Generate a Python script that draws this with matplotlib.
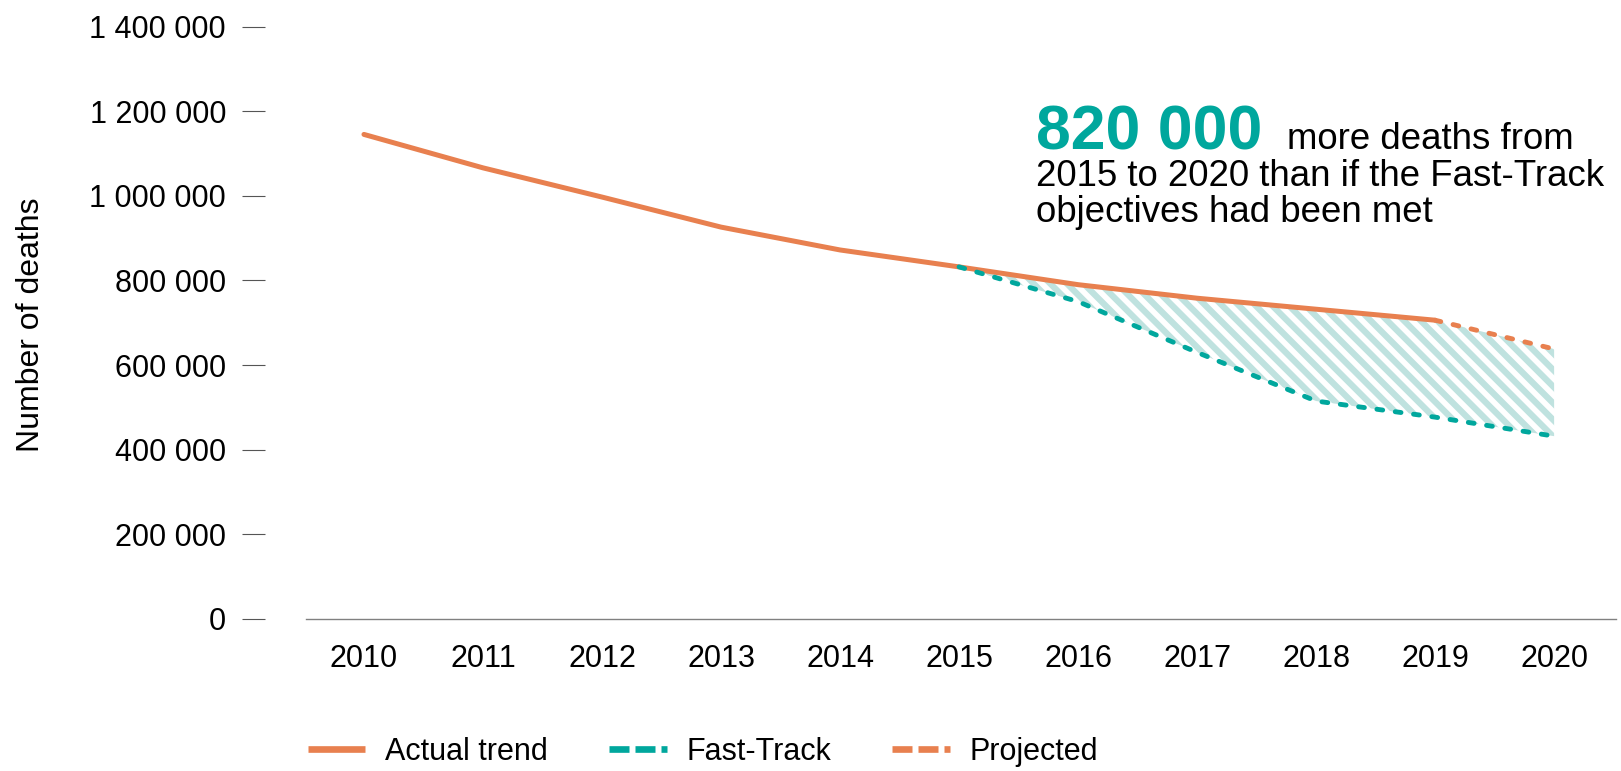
import numpy as np
import matplotlib
matplotlib.use("Agg")
import matplotlib.pyplot as plt
from matplotlib.lines import Line2D
from matplotlib.ticker import FuncFormatter

plt.rcParams['font.family'] = ['Liberation Sans', 'DejaVu Sans']
plt.rcParams['hatch.linewidth'] = 4.5

# values
years = [2010, 2011, 2012, 2013, 2014, 2015, 2016, 2017, 2018, 2019, 2020]
actual = [1145000, 1066000, 997000, 926000, 872000, 832000, 790000, 758000, 732000, 706000]
projected_years = [2019, 2020]
projected = [706000, 638000]
fast_track_years = [2015, 2016, 2017, 2018, 2019, 2020]
fast_track = [832000, 750000, 630000, 515000, 477000, 432000]

y_ticks = [0, 200000, 400000, 600000, 800000, 1000000, 1200000, 1400000]

orange = '#E8804F'
teal = '#00A79D'
stripe = '#BFE2DF'

fig = plt.figure(figsize=(16.21, 7.71), dpi=100)
ax = fig.add_axes([306 / 1621, 152 / 771, 1310 / 1621, 592.5 / 771])

# gap between actual/projected and fast-track, 2015-2020
upper = np.concatenate([actual[5:], projected[1:]])
ax.fill_between(fast_track_years, upper, fast_track,
                facecolor='white', edgecolor=stripe, hatch='\\\\', linewidth=0, zorder=1)

ax.plot(years[:len(actual)], actual, color=orange, lw=3.6,
        solid_capstyle='round', zorder=3)
ax.plot(projected_years, projected, color=orange, lw=3.5,
        dashes=(1.2, 2.6), dash_capstyle='round', zorder=3)
ax.plot(fast_track_years, fast_track, color=teal, lw=3.5,
        dashes=(1.2, 2.6), dash_capstyle='round', zorder=4)

ax.set_xlim(2009.513, 2020.52)
ax.set_ylim(0, 1400000)
ax.set_xticks(years)
ax.set_yticks(y_ticks)
ax.yaxis.set_major_formatter(FuncFormatter(lambda v, p: f"{int(v):,}".replace(",", " ")))

for s in ['top', 'right', 'left']:
    ax.spines[s].set_visible(False)
ax.spines['left'].set_position(('outward', 29.5))
ax.spines['bottom'].set_color('#808080')
ax.spines['bottom'].set_linewidth(1.0)

ax.tick_params(axis='x', length=0, pad=18, labelsize=22, colors='black')
ax.tick_params(axis='y', length=16.6, width=0.8, color='#555555', pad=11.5,
               labelsize=22, labelcolor='black')

fig.text(31 / 1621, 1 - 325 / 771, 'Number of deaths', rotation=90,
         ha='center', va='center', fontsize=23)

# annotation
fig.text(1036 / 1621, 1 - 149 / 771, '820 000', color=teal, fontsize=45,
         fontweight='bold', ha='left', va='baseline')
fig.text(1287 / 1621, 1 - 149 / 771, 'more deaths from', fontsize=26.4,
         ha='left', va='baseline')
fig.text(1036 / 1621, 1 - 186 / 771, '2015 to 2020 than if the Fast-Track', fontsize=26.4,
         ha='left', va='baseline')
fig.text(1036 / 1621, 1 - 222 / 771, 'objectives had been met', fontsize=26.4,
         ha='left', va='baseline')

handles = [
    Line2D([], [], color=orange, lw=4.8, solid_capstyle='butt'),
    Line2D([], [], color=teal, lw=4.8, dashes=(3.0, 0.9), dash_capstyle='butt'),
    Line2D([], [], color=orange, lw=4.8, dashes=(3.0, 0.9), dash_capstyle='butt'),
]
fig.legend(handles, ['Actual trend', 'Fast-Track', 'Projected'],
           loc='center left', bbox_to_anchor=(308 / 1621, 1 - 752 / 771),
           ncol=3, frameon=False, fontsize=22, borderpad=0, borderaxespad=0,
           handlelength=1.88, handletextpad=0.65, columnspacing=2.0)

fig.savefig('out.png', dpi=100)
